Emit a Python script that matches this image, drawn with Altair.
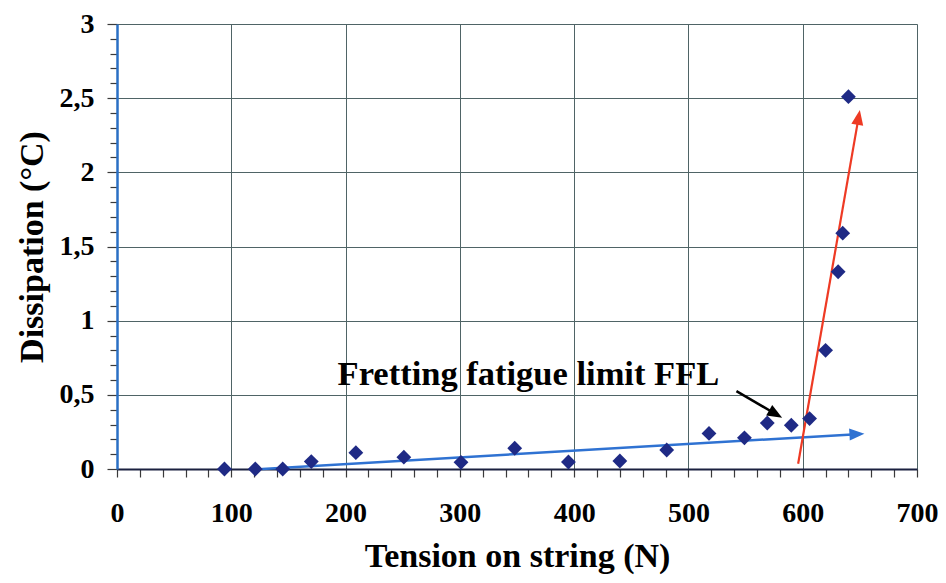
import math
import altair as alt
import pandas as pd

# ---------------- data ----------------
tension = [94, 121, 145, 170, 209, 251, 301, 348, 395, 440, 481, 518, 549, 569, 590, 606, 620, 631, 635, 640]
dissipation = [0, 0, 0, 0.05, 0.11, 0.08, 0.045, 0.14, 0.047, 0.054, 0.128, 0.24, 0.21, 0.31, 0.295, 0.34, 0.80, 1.33, 1.59, 2.51]

x_ticks = list(range(0, 701, 20))
y_ticks = [round(i * 0.1, 1) for i in range(31)]

arrow_names = ["trend", "rupture", "pointer"]
arrow_x_start = [127, 596, 542]
arrow_y_start = [0.0, 0.035, 0.525]
arrow_x_tip = [654, 650, 582]
arrow_y_tip = [0.238, 2.42, 0.345]
arrow_colors = ["#2f72d2", "#ee3a24", "#000000"]
arrow_widths = [2.5, 2.2, 2.5]

note_text = ["Fretting fatigue limit FFL"]
note_x = [193]
note_y = [0.566]

# ---------------- layout ----------------
W, H = 800, 445
X_MAX, Y_MAX = 700, 3
kx, ky = W / X_MAX, H / Y_MAX
HEAD = 15  # arrow head length in px

FONT = "Liberation Serif"

rows = []
for n, xs, ys, xt, yt, c, sw in zip(arrow_names, arrow_x_start, arrow_y_start,
                                    arrow_x_tip, arrow_y_tip, arrow_colors, arrow_widths):
    dx, dy = (xt - xs) * kx, (yt - ys) * ky
    L = math.hypot(dx, dy)
    ux, uy = dx / L, dy / L
    xe = xt - (HEAD - 3) * ux / kx
    ye = yt - (HEAD - 3) * uy / ky
    xc = xt - (HEAD / 2) * ux / kx
    yc = yt - (HEAD / 2) * uy / ky
    ang = math.degrees(math.atan2(ux, uy)) % 360
    rows.append(dict(name=n, xs=xs, ys=ys, xe=xe, ye=ye, xc=xc, yc=yc, ang=ang, color=c, sw=sw))
arrows = pd.DataFrame(rows)

pts = pd.DataFrame({"tension": tension, "dissipation": dissipation})
notes = pd.DataFrame({"text": note_text, "x": note_x, "y": note_y})

xscale = alt.Scale(domain=[0, X_MAX], nice=False, zero=False)
yscale = alt.Scale(domain=[0, Y_MAX], nice=False, zero=False)

x_major = "datum.value % 100 === 0"
y_major = "abs(datum.value * 2 - round(datum.value * 2)) < 1e-6"

x_axis = alt.Axis(
    values=x_ticks, tickCount=len(x_ticks), format="d",
    labelExpr=f"{x_major} ? datum.label : ''",
    labelOverlap=False, labelFlush=False,
    grid=True, gridColor="#4f6466", gridWidth=1,
    gridOpacity={"condition": {"test": x_major, "value": 1}, "value": 0},
    ticks=True, tickSize=8, tickColor="#3a3a3a", tickWidth=1.2,
    domain=True, domainColor="#1b2140", domainWidth=2.2,
    labelFont=FONT, labelFontWeight="bold", labelFontSize=28, labelColor="#000",
    labelPadding=22,
    title="Tension on string (N)", titleFont=FONT, titleFontWeight="bold",
    titleFontSize=34, titleColor="#000", titlePadding=12,
)
y_axis = alt.Axis(
    values=y_ticks, tickCount=len(y_ticks),
    labelExpr=f"{y_major} ? replace(format(datum.value, '.1~f'), '.', ',') : ''",
    labelOverlap=False, labelFlush=False,
    grid=True, gridColor="#4f6466", gridWidth=1,
    gridOpacity={"condition": {"test": y_major, "value": 1}, "value": 0},
    ticks=True, tickSize={"condition": {"test": y_major, "value": 10}, "value": 7},
    tickColor="#3a3a3a", tickWidth=1.2,
    domain=True, domainColor="#2a6fc4", domainWidth=2.5,
    labelFont=FONT, labelFontWeight="bold", labelFontSize=28, labelColor="#000",
    labelPadding=13,
    title="Dissipation (°C)", titleFont=FONT, titleFontWeight="bold",
    titleFontSize=34, titleColor="#000", titlePadding=10,
)

base_pts = alt.Chart(pts).encode(
    x=alt.X("tension:Q", scale=xscale, axis=x_axis),
    y=alt.Y("dissipation:Q", scale=yscale, axis=y_axis),
)
points = base_pts.mark_point(shape="diamond", filled=True, size=220, color="#1f2a85", opacity=1)

lines = alt.Chart(arrows).mark_rule().encode(
    x=alt.X("xs:Q", scale=xscale),
    y=alt.Y("ys:Q", scale=yscale),
    x2="xe:Q", y2="ye:Q",
    color=alt.Color("color:N", scale=None),
    strokeWidth=alt.StrokeWidth("sw:Q", scale=None),
)
heads = alt.Chart(arrows).mark_point(
    shape="M0,-1L-0.8,1L0.8,1Z", filled=True, size=HEAD * HEAD, opacity=1
).encode(
    x=alt.X("xc:Q", scale=xscale),
    y=alt.Y("yc:Q", scale=yscale),
    angle=alt.Angle("ang:Q", scale=None),
    color=alt.Color("color:N", scale=None),
)
label = alt.Chart(notes).mark_text(
    align="left", baseline="alphabetic", font=FONT, fontWeight="bold", fontSize=34.5, color="#000"
).encode(
    x=alt.X("x:Q", scale=xscale),
    y=alt.Y("y:Q", scale=yscale),
    text="text:N",
)

chart = alt.layer(lines, heads, points, label).properties(
    width=W, height=H,
    autosize=alt.AutoSizeParams(type="none"),
    padding={"left": 109, "top": 16, "right": 21, "bottom": 106},
).configure_view(stroke="#2a6fc4", strokeWidth=2.5).configure(background="white")

chart.save("out.html", embed_options={"renderer": "svg", "actions": False})
